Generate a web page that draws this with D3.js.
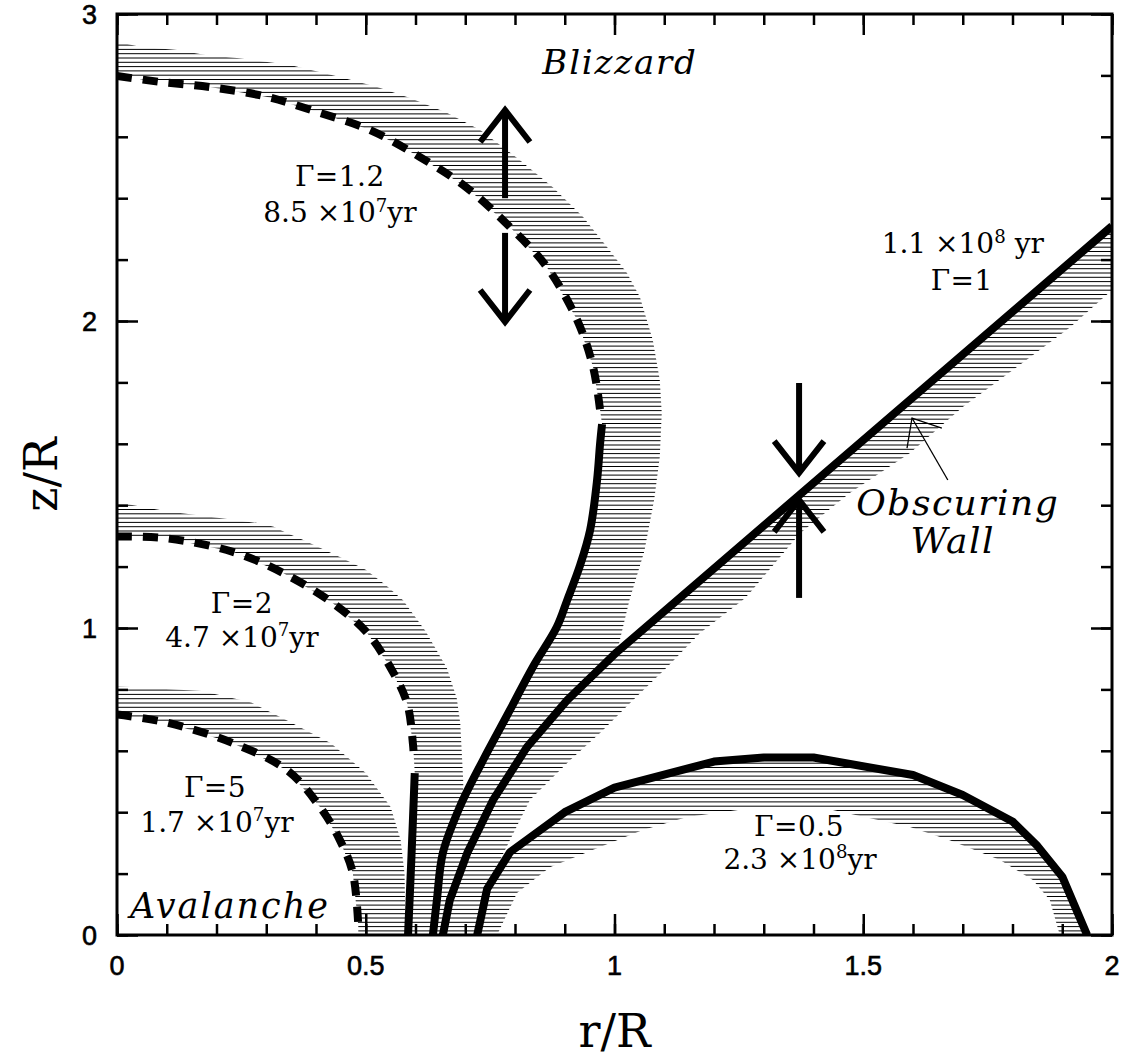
<!DOCTYPE html>
<html><head><meta charset="utf-8">
<script src="https://cdn.jsdelivr.net/npm/d3@7"></script>
<style>body{margin:0;background:#fff}</style>
</head><body>
<svg id="c" width="1127" height="1057" xmlns="http://www.w3.org/2000/svg"></svg>
<script>
// ---------------- data ----------------
const xMajorTicks = [0, 0.5, 1, 1.5, 2];
const xTickLabels = ["0", "0.5", "1", "1.5", "2"];
const yMajorTicks = [0, 1, 2, 3];
const yTickLabels = ["0", "1", "2", "3"];
const xMinorTicks = d3.range(0, 2.0001, 0.1);
const yMinorTicks = d3.range(0, 3.0001, 0.2);

// Gamma = 5 (dashed) and its hatched band
const g5Dashed = [[0,0.718],[0.1,0.692],[0.233,0.625],[0.342,0.537],[0.408,0.417],[0.448,0.309],[0.474,0.202],[0.485,0.03]];
const g5Outer  = [[0,0.81],[0.17,0.795],[0.21,0.78],[0.27,0.757],[0.34,0.70],[0.43,0.625],[0.50,0.528],[0.55,0.417],[0.57,0.31],[0.578,0.2],[0.58,0]];

// Gamma = 2
const g2Dashed = [[0,1.298],[0.1,1.292],[0.233,1.248],[0.334,1.179],[0.434,1.081],[0.503,0.984],[0.549,0.873],[0.583,0.756],[0.595,0.62],[0.597,0.57]];
const g2Solid  = [[0.5985,0.527],[0.592,0.26],[0.585,0]];
const g2Outer  = [[0,1.41],[0.1,1.38],[0.245,1.35],[0.29,1.34],[0.315,1.33],[0.34,1.31],[0.37,1.29],[0.45,1.23],[0.5,1.19],[0.54,1.14],[0.575,1.09],[0.62,0.99],[0.663,0.87],[0.683,0.77],[0.69,0.69],[0.696,0.5],[0.696,0]];

// Gamma = 1.2
const g12Dashed = [[0,2.798],[0.086,2.779],[0.187,2.762],[0.302,2.730],[0.402,2.681],[0.509,2.622],[0.609,2.534],[0.704,2.433],[0.790,2.306],[0.864,2.176],[0.925,2.003],[0.957,1.850],[0.971,1.71]];
const g12Solid  = [[0.975,1.664],[0.971,1.60],[0.965,1.482],[0.951,1.319],[0.931,1.205],[0.905,1.091],[0.884,1.003],[0.836,0.873],[0.790,0.733],[0.736,0.570],[0.689,0.417],[0.655,0.267],[0.643,0.114],[0.635,0]];
const g12Outer  = [[0,2.91],[0.046,2.893],[0.121,2.883],[0.181,2.866],[0.241,2.857],[0.302,2.844],[0.348,2.834],[0.388,2.818],[0.448,2.795],[0.523,2.762],[0.589,2.726],[0.663,2.678],[0.730,2.622],[0.810,2.524],[0.876,2.436],[0.937,2.339],[0.985,2.241],[1.025,2.156],[1.051,2.078],[1.077,1.938],[1.091,1.808],[1.095,1.700],[1.091,1.557],[1.08,1.42],[1.06,1.25],[1.03,1.09]];

// Gamma = 1 (obscuring wall)
const g1Line  = [[2.0,2.309],[1.005,0.922],[0.905,0.765],[0.824,0.612],[0.756,0.440],[0.704,0.267],[0.669,0.114],[0.655,0]];
const g1Outer = [[2.0,2.101],[1.916,1.980],[1.809,1.850],[1.700,1.720],[1.594,1.570],[1.473,1.440],[1.373,1.309],[1.272,1.114],[1.258,1.091],[1.172,0.984],[1.106,0.873],[1.037,0.765],[0.971,0.658],[0.911,0.570],[0.83,0.44],[0.77,0.244],[0.74,0]];

// Gamma = 0.5
const g05Line  = [[0.724,0],[0.744,0.15],[0.79,0.27],[0.9,0.4],[1.0,0.48],[1.2,0.565],[1.3,0.578],[1.4,0.578],[1.6,0.521],[1.7,0.456],[1.8,0.37],[1.85,0.29],[1.9,0.19],[1.95,0]];
const g05Inner = [[0.764,0],[0.804,0.137],[0.870,0.221],[0.971,0.287],[1.057,0.342],[1.146,0.384],[1.292,0.417],[1.439,0.407],[1.594,0.352],[1.674,0.309],[1.775,0.244],[1.841,0.179],[1.875,0.114],[1.895,0]];

// arrows: [r, zTail, zTip]
const arrows = [[0.780,2.40,2.687],[0.780,2.287,1.997],[1.371,1.798,1.505],[1.371,1.098,1.417]];
// pointer to wall: [tail, tip]
const pointer = [[1.670,1.482],[1.598,1.684]];

// ---------------- drawing ----------------
const x = d3.scaleLinear().domain([0, 2]).range([117, 1112]);
const y = d3.scaleLinear().domain([0, 3]).range([935, 14]);
const svg = d3.select("#c");

const lineLin = d3.line().x(d => x(d[0])).y(d => y(d[1]));
const lineSmooth = d3.line().x(d => x(d[0])).y(d => y(d[1])).curve(d3.curveCatmullRom.alpha(0.5));

// hatch clip polygons
const bands = [
  g5Dashed.concat([[0.485,0]], g5Outer.slice().reverse()),
  g2Dashed.concat(g2Solid, g2Outer.slice().reverse()),
  g12Dashed.concat(g12Solid, g1Line.slice(1).reverse(), g12Outer.slice().reverse()),
  g1Line.concat(g1Outer.slice().reverse()),
  g05Line.concat(g05Inner.slice().reverse())
];
const defs = svg.append("defs");
const cp = defs.append("clipPath").attr("id", "hatchClip");
cp.selectAll("path").data(bands).join("path")
  .attr("d", d => lineLin(d) + "Z");
defs.append("clipPath").attr("id", "plotClip").append("rect")
  .attr("x", x(0)).attr("y", y(3)).attr("width", x(2) - x(0)).attr("height", y(0) - y(3));

const hatchG = svg.append("g").attr("clip-path", "url(#plotClip)")
  .append("g").attr("clip-path", "url(#hatchClip)");
const hatchYs = d3.range(y(3) + 1, y(0), 4.3);
hatchG.selectAll("line").data(hatchYs).join("line")
  .attr("x1", x(0)).attr("x2", x(2))
  .attr("y1", d => d).attr("y2", d => d)
  .attr("stroke", "#000").attr("stroke-width", 1);

// curves
const curveG = svg.append("g").attr("clip-path", "url(#plotClip)")
  .attr("fill", "none").attr("stroke", "#000").attr("stroke-width", 8);
[g5Dashed, g2Dashed, g12Dashed].forEach(d => {
  curveG.append("path").attr("d", lineSmooth(d)).attr("stroke-dasharray", "15,11");
});
[g2Solid, g12Solid].forEach(d => curveG.append("path").attr("d", lineSmooth(d)));
curveG.append("path").attr("d", lineLin(g1Line)).attr("stroke-linejoin", "round");
curveG.append("path").attr("d", lineLin(g05Line)).attr("stroke-linejoin", "round");

// axes frame and ticks
function axisTicks(gen, pos, vals, size) {
  return svg.append("g").attr("transform", pos)
    .call(gen.tickValues(vals).tickSize(size).tickFormat(""))
    .call(g => g.select(".domain").remove())
    .call(g => g.selectAll("line").attr("stroke", "#000").attr("stroke-width", 2.5));
}
axisTicks(d3.axisBottom(x), `translate(0,${y(0)})`, xMinorTicks, -11);
axisTicks(d3.axisBottom(x), `translate(0,${y(0)})`, xMajorTicks, -21);
axisTicks(d3.axisTop(x), `translate(0,${y(3)})`, xMinorTicks, -11);
axisTicks(d3.axisTop(x), `translate(0,${y(3)})`, xMajorTicks, -21);
axisTicks(d3.axisLeft(y), `translate(${x(0)},0)`, yMinorTicks, -11);
axisTicks(d3.axisLeft(y), `translate(${x(0)},0)`, yMajorTicks, -21);
axisTicks(d3.axisRight(y), `translate(${x(2)},0)`, yMinorTicks, -11);
axisTicks(d3.axisRight(y), `translate(${x(2)},0)`, yMajorTicks, -21);

svg.append("rect").attr("x", x(0)).attr("y", y(3))
  .attr("width", x(2) - x(0)).attr("height", y(0) - y(3))
  .attr("fill", "none").attr("stroke", "#000").attr("stroke-width", 3);

// tick labels
const tickFont = "'Liberation Sans', Arial, sans-serif";
svg.append("g").selectAll("text").data(xMajorTicks).join("text")
  .attr("x", d => x(d)).attr("y", 975)
  .attr("text-anchor", "middle").attr("font-family", tickFont).attr("font-size", 27)
  .attr("stroke", "#000").attr("stroke-width", 0.6)
  .text((d, i) => xTickLabels[i]);
svg.append("g").selectAll("text").data(yMajorTicks).join("text")
  .attr("x", 97).attr("y", d => y(d) + 10)
  .attr("text-anchor", "end").attr("font-family", tickFont).attr("font-size", 27)
  .attr("stroke", "#000").attr("stroke-width", 0.6)
  .text((d, i) => yTickLabels[i]);

// axis titles
const serif = "'DejaVu Serif', serif";
svg.append("text").attr("x", x(1)).attr("y", 1047).attr("text-anchor", "middle")
  .attr("font-family", serif).attr("font-size", 46).text("r/R");
svg.append("text").attr("transform", `translate(57,${y(1.5)}) rotate(-90)`).attr("text-anchor", "middle")
  .attr("font-family", serif).attr("font-size", 46).text("z/R");

// arrows
const arrowG = svg.append("g").attr("stroke", "#000").attr("fill", "none").attr("stroke-width", 6);
arrows.forEach(([r, z0, z1]) => {
  const dir = z1 > z0 ? 1 : -1;
  arrowG.append("line").attr("x1", x(r)).attr("x2", x(r)).attr("y1", y(z0)).attr("y2", y(z1) + dir * 2);
  arrowG.append("path").attr("stroke-linejoin", "miter")
    .attr("d", lineLin([[r - 0.05, z1 - dir * 0.104], [r, z1], [r + 0.05, z1 - dir * 0.104]]));
});
// pointer
const pG = svg.append("g").attr("stroke", "#000").attr("fill", "none").attr("stroke-width", 1.3);
pG.append("path").attr("d", lineLin(pointer));
pG.append("path").attr("d", lineLin([[1.588,1.586], pointer[1], [1.658,1.651]]));

// labels
function label(r, z, parts, size, italic, spacing) {
  const t = svg.append("text").attr("x", x(r)).attr("y", y(z)).attr("text-anchor", "middle")
    .attr("font-family", serif).attr("font-size", size)
    .attr("letter-spacing", spacing || 0)
    .attr("font-style", italic ? "italic" : "normal");
  parts.forEach(p => {
    if (typeof p === "string") t.append("tspan").text(p);
    else if (p.up) t.append("tspan").attr("font-size", size * 0.65).attr("dy", -size * 0.38).text(p.t);
    else t.append("tspan").attr("font-size", size).attr("dy", size * 0.38).text(p.t);
  });
}
label(1.011, 2.805, ["Blizzard"], 34, true, 1.8);
label(0.448, 2.44, ["Γ=1.2"], 28, false, 0.5);
label(0.448, 2.322, ["8.5 ×10", {t: "7", up: true}, {t: "yr", up: false}], 28);
label(1.70, 2.221, ["1.1 ×10", {t: "8", up: true}, {t: " yr", up: false}], 28);
label(1.698, 2.101, ["Γ=1"], 28, false, 0.5);
label(1.69, 1.368, ["Obscuring"], 36, true, 1.5);
label(1.68, 1.244, ["Wall"], 36, true, 1.5);
label(0.251, 1.049, ["Γ=2"], 28, false, 0.5);
label(0.251, 0.938, ["4.7 ×10", {t: "7", up: true}, {t: "yr", up: false}], 28);
label(0.197, 0.4495, ["Γ=5"], 28, false, 0.5);
label(0.201, 0.3355, ["1.7 ×10", {t: "7", up: true}, {t: "yr", up: false}], 28);
label(0.227, 0.055, ["Avalanche"], 35, true, 2);
label(1.371, 0.322, ["Γ=0.5"], 28, false, 0.5);
label(1.373, 0.215, ["2.3 ×10", {t: "8", up: true}, {t: "yr", up: false}], 28);
</script>
</body></html>
